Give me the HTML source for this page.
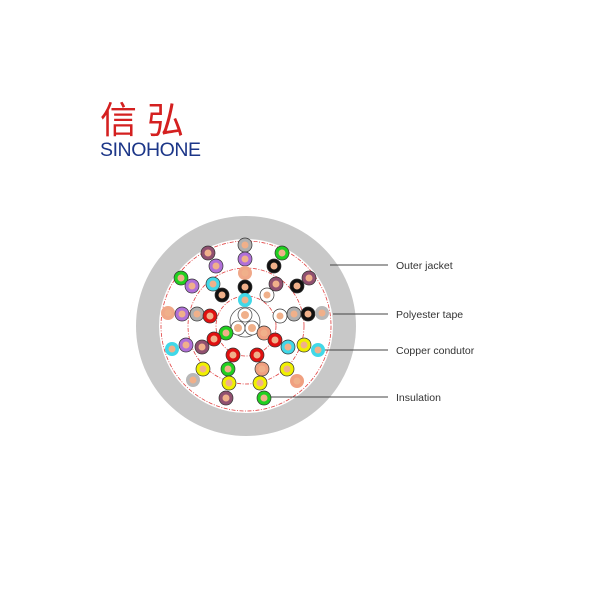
<!DOCTYPE html>
<html><head><meta charset="utf-8"><style>
body{margin:0;background:#fff;width:600px;height:600px;overflow:hidden}
svg{position:absolute;left:0;top:0}
</style></head><body>
<svg width="600" height="600" viewBox="0 0 600 600">
<text x="100" y="133" font-family="'Noto Sans CJK SC', sans-serif" font-size="37" fill="#d42020" letter-spacing="10">信弘</text>
<text x="100" y="156" font-family="'Liberation Sans', sans-serif" font-size="19.5" fill="#1c3688" textLength="101">SINOHONE</text>

<circle cx="246" cy="326" r="110" fill="#c8c8c8"/>
<circle cx="246" cy="326" r="87" fill="#fff"/>
<g fill="none" stroke="#e04040" stroke-width="0.8" stroke-dasharray="4,1.5,1,1.5">
<circle cx="246" cy="326" r="85"/>
<circle cx="246" cy="326" r="58"/>
<circle cx="246" cy="326" r="30"/>
</g>
<circle cx="245" cy="322" r="15" fill="#fff" stroke="#555" stroke-width="0.8"/>
<g stroke="#555" stroke-width="0.8">
<circle cx="245" cy="315" r="7" fill="#fff"/><circle cx="238" cy="328" r="7" fill="#fff"/><circle cx="252" cy="328" r="7" fill="#fff"/>
</g>
<g fill="#f0b08a"><circle cx="245" cy="315" r="4"/><circle cx="238" cy="328" r="4"/><circle cx="252" cy="328" r="4"/></g>

<g stroke="#333" stroke-width="0.7" id="c"></g>

<g stroke="#444" stroke-width="1">
<line x1="330" y1="265" x2="388" y2="265"/>
<line x1="333" y1="314" x2="388" y2="314"/>
<line x1="320" y1="350" x2="388" y2="350"/>
<line x1="268" y1="397" x2="388" y2="397"/>
</g>
<g font-family="'Liberation Sans', sans-serif" font-size="10.5" fill="#333">
<text x="396" y="269">Outer jacket</text>
<text x="396" y="318">Polyester tape</text>
<text x="396" y="354">Copper condutor</text>
<text x="396" y="401">Insulation</text>
</g>
<g stroke="#333" stroke-width="0.7">
<!-- ring color, position -->
<circle cx="245" cy="245" r="7" fill="#b0b0b0"/>
<circle cx="245" cy="259" r="7" fill="#b070d8"/>
<circle cx="245" cy="273" r="7" fill="#f0a888" stroke="none"/>
<circle cx="245" cy="287" r="7" fill="#111"/>
<circle cx="245" cy="300" r="7" fill="#40d8e8" stroke="none"/>
<circle cx="208" cy="253" r="7" fill="#905070"/>
<circle cx="216" cy="266" r="7" fill="#b070d8"/>
<circle cx="181" cy="278" r="7" fill="#20d020"/>
<circle cx="192" cy="286" r="7" fill="#b070d8"/>
<circle cx="213" cy="284" r="7" fill="#40d8e8"/>
<circle cx="222" cy="295" r="7" fill="#111"/>
<circle cx="168" cy="313" r="7" fill="#f0a888" stroke="none"/>
<circle cx="182" cy="314" r="7" fill="#b070d8"/>
<circle cx="197" cy="314" r="7" fill="#b0b0b0"/>
<circle cx="210" cy="316" r="7" fill="#e01010"/>
<circle cx="282" cy="253" r="7" fill="#20d020"/>
<circle cx="274" cy="266" r="7" fill="#111"/>
<circle cx="309" cy="278" r="7" fill="#905070"/>
<circle cx="297" cy="286" r="7" fill="#111"/>
<circle cx="276" cy="284" r="7" fill="#905070"/>
<circle cx="267" cy="295" r="7" fill="#fff"/>
<circle cx="280" cy="316" r="7" fill="#fff"/>
<circle cx="294" cy="314" r="7" fill="#b0b0b0"/>
<circle cx="308" cy="314" r="7" fill="#111"/>
<circle cx="322" cy="313" r="7" fill="#b8b8b8" stroke="none"/>
<circle cx="226" cy="333" r="7" fill="#20d020"/>
<circle cx="214" cy="339" r="7" fill="#e01010"/>
<circle cx="202" cy="347" r="7" fill="#905070"/>
<circle cx="186" cy="345" r="7" fill="#b070d8"/>
<circle cx="172" cy="349" r="7" fill="#40d8e8" stroke="none"/>
<circle cx="264" cy="333" r="7" fill="#f0a080"/>
<circle cx="275" cy="340" r="7" fill="#e01010"/>
<circle cx="288" cy="347" r="7" fill="#40d8e8"/>
<circle cx="304" cy="345" r="7" fill="#f0f000"/>
<circle cx="318" cy="350" r="7" fill="#40d8e8" stroke="none"/>
<circle cx="233" cy="355" r="7" fill="#e01010"/>
<circle cx="257" cy="355" r="7" fill="#e01010"/>
<circle cx="228" cy="369" r="7" fill="#20d020"/>
<circle cx="262" cy="369" r="7" fill="#f0a080"/>
<circle cx="203" cy="369" r="7" fill="#f0f000"/>
<circle cx="287" cy="369" r="7" fill="#f0f000"/>
<circle cx="193" cy="380" r="7" fill="#b8b8b8" stroke="none"/>
<circle cx="297" cy="381" r="7" fill="#f0a080" stroke="none"/>
<circle cx="229" cy="383" r="7" fill="#f0f000"/>
<circle cx="260" cy="383" r="7" fill="#f0f000"/>
<circle cx="226" cy="398" r="7" fill="#905070"/>
<circle cx="264" cy="398" r="7" fill="#20d020"/>
</g>
<g fill="#f0b08a">
<circle cx="245" cy="245" r="3.5"/><circle cx="245" cy="259" r="3.5"/><circle cx="245" cy="273" r="3.5"/><circle cx="245" cy="287" r="3.5"/><circle cx="245" cy="300" r="3.5"/>
<circle cx="208" cy="253" r="3.5"/><circle cx="216" cy="266" r="3.5"/><circle cx="181" cy="278" r="3.5"/><circle cx="192" cy="286" r="3.5"/><circle cx="213" cy="284" r="3.5"/><circle cx="222" cy="295" r="3.5"/>
<circle cx="168" cy="313" r="3.5"/><circle cx="182" cy="314" r="3.5"/><circle cx="197" cy="314" r="3.5"/><circle cx="210" cy="316" r="3.5"/>
<circle cx="282" cy="253" r="3.5"/><circle cx="274" cy="266" r="3.5"/><circle cx="309" cy="278" r="3.5"/><circle cx="297" cy="286" r="3.5"/><circle cx="276" cy="284" r="3.5"/><circle cx="267" cy="295" r="3.5"/>
<circle cx="280" cy="316" r="3.5"/><circle cx="294" cy="314" r="3.5"/><circle cx="308" cy="314" r="3.5"/><circle cx="322" cy="313" r="3.5"/>
<circle cx="226" cy="333" r="3.5"/><circle cx="214" cy="339" r="3.5"/><circle cx="202" cy="347" r="3.5"/><circle cx="186" cy="345" r="3.5"/><circle cx="172" cy="349" r="3.5"/>
<circle cx="264" cy="333" r="3.5"/><circle cx="275" cy="340" r="3.5"/><circle cx="288" cy="347" r="3.5"/><circle cx="304" cy="345" r="3.5"/><circle cx="318" cy="350" r="3.5"/>
<circle cx="233" cy="355" r="3.5"/><circle cx="257" cy="355" r="3.5"/><circle cx="228" cy="369" r="3.5"/><circle cx="262" cy="369" r="3.5"/><circle cx="203" cy="369" r="3.5"/><circle cx="287" cy="369" r="3.5"/>
<circle cx="193" cy="380" r="3.5"/><circle cx="297" cy="381" r="3.5"/><circle cx="229" cy="383" r="3.5"/><circle cx="260" cy="383" r="3.5"/><circle cx="226" cy="398" r="3.5"/><circle cx="264" cy="398" r="3.5"/>
</g>
</svg>
</body></html>
